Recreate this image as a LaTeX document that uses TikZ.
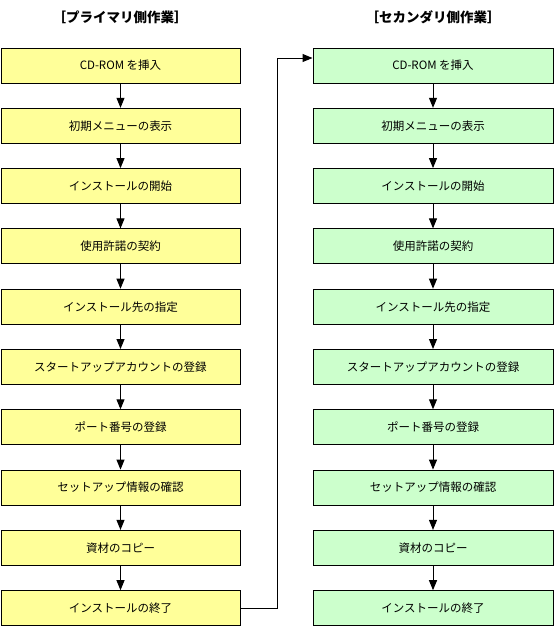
\documentclass[tikz,border=0pt]{standalone}
\usepackage{fontspec}
\setmainfont{Noto Sans CJK JP}
\usetikzlibrary{arrows.meta}
\definecolor{pyellow}{HTML}{FFFF99}
\definecolor{pgreen}{HTML}{CCFFCC}
\begin{document}
\begin{tikzpicture}[x=1pt,y=-1pt,
  boxstyle/.style={draw=black,line width=1pt,minimum height=35pt,inner sep=0pt,font=\fontsize{11.5}{13}\selectfont},
  pbox/.style={boxstyle,fill=pyellow,minimum width=239pt},
  sbox/.style={boxstyle,fill=pgreen,minimum width=240pt},
  flow/.style={line width=1pt,-{Triangle[length=10pt,width=8pt]}},
  titlestyle/.style={font=\fontsize{13.5}{15}\selectfont\bfseries,inner sep=0pt}]
\useasboundingbox (0,0) rectangle (555,627);
\node[titlestyle] (tp) at (120,17) {［プライマリ側作業］};
\node[titlestyle] (ts) at (433,17) {［セカンダリ側作業］};
\foreach \i/\t in {1/CD-ROM を挿入,2/初期メニューの表示,3/インストールの開始,4/使用許諾の契約,5/インストール先の指定,6/スタートアップアカウントの登録,7/ポート番号の登録,8/セットアップ情報の確認,9/資材のコピー,10/インストールの終了}{
  \node[pbox] (p\i) at (120.5,{65.5+60.3*(\i-1)}) {\t};
  \node[sbox] (s\i) at (433,{65.5+60.3*(\i-1)}) {\t};
}
\foreach \i [evaluate=\i as \j using int(\i+1)] in {1,...,9}{
  \draw[flow] (p\i) -- (p\j);
  \draw[flow] (s\i) -- (s\j);
}
\coordinate (j) at (277,58);
\draw[flow] (p10.east) -| (j) -- (s1.west |- j);
\end{tikzpicture}
\end{document}
